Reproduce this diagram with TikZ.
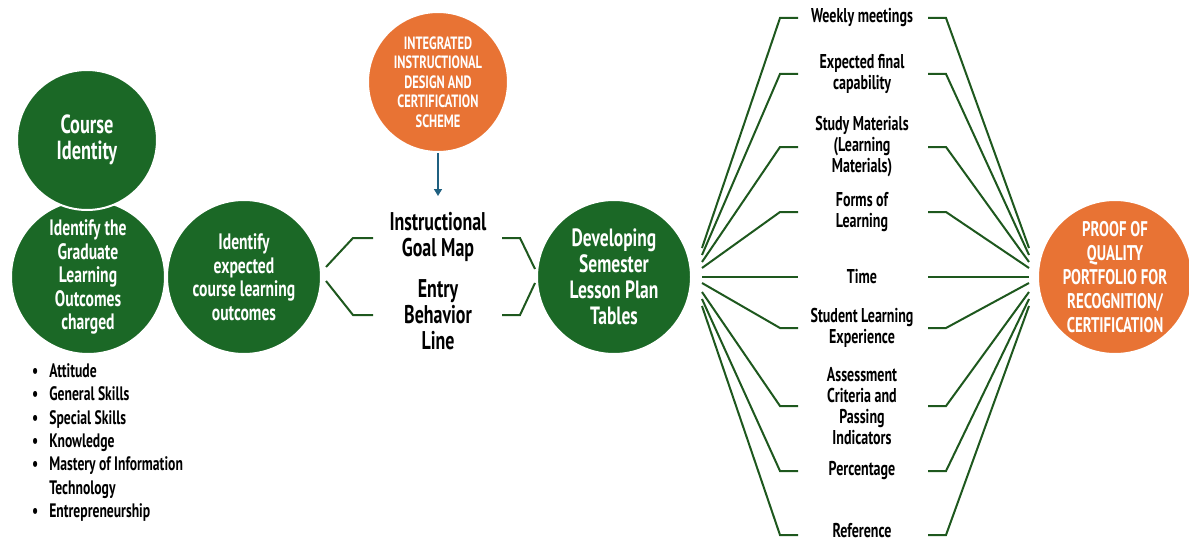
\documentclass[tikz,border=0pt]{standalone}
\usepackage{fontspec}
\setmainfont{PT Sans}[FakeStretch=0.7]
\usetikzlibrary{arrows.meta}
\definecolor{dgreen}{RGB}{27,104,38}
\definecolor{lgreen}{RGB}{30,88,30}
\definecolor{dorange}{RGB}{232,115,52}
\definecolor{arrowblue}{RGB}{31,96,128}
\tikzset{
  bubble/.style={circle, draw=white, line width=2pt, text=white, align=center,
    inner sep=0pt, font=\bfseries\fontsize{22.3}{23.5}\selectfont},
  greenbubble/.style={bubble, fill=dgreen, minimum size=154pt},
  orangebubble/.style={bubble, fill=dorange, minimum size=150pt},
  lbl/.style={align=center, text=black, inner sep=1pt,
    font=\bfseries\fontsize{20}{21}\selectfont},
  biglbl/.style={align=center, text=black, inner sep=1pt,
    font=\bfseries\fontsize{25.6}{26}\selectfont},
  link/.style={draw=lgreen, line width=2pt},
}
\begin{document}
\begin{tikzpicture}[x=1pt,y=-1pt]
\useasboundingbox (0,0) rectangle (1189,543);

% left column of circles
\node[greenbubble] (glo) at (88,277) {Identify the\\Graduate\\Learning\\Outcomes\\charged};
\node[greenbubble, minimum size=140pt, font=\bfseries\fontsize{26.2}{26}\selectfont] (ci) at (87,140) {Course\\Identity};
\node[greenbubble] (clo) at (244,277) {Identify\\expected\\course learning\\outcomes};

% outcome categories
\node[anchor=north west, inner sep=0pt, font=\bfseries\fontsize{19.5}{23.3}\selectfont] (cats) at (32,361)
 {\begin{tabular}{@{}c@{\hspace{11pt}}l@{}}
  \textbullet & Attitude\\
  \textbullet & General Skills\\
  \textbullet & Special Skills\\
  \textbullet & Knowledge\\
  \textbullet & Mastery of Information\\
              & Technology\\
  \textbullet & Entrepreneurship
 \end{tabular}};

% scheme and the two middle steps
\node[orangebubble, minimum size=140pt, font=\bfseries\fontsize{17.8}{19.5}\selectfont] (scheme) at (438,82)
  {INTEGRATED\\INSTRUCTIONAL\\DESIGN AND\\CERTIFICATION\\SCHEME};
\node[biglbl] (goal) at (438,237) {Instructional\\Goal Map};
\node[biglbl] (entry) at (438,315) {Entry\\Behavior\\Line};
\coordinate (arrowend) at (438,196);
\draw[draw=arrowblue, line width=1.5pt, -{Triangle[length=7pt,width=8pt]}] (scheme.south) -- (arrowend);

% lesson plan and portfolio
\node[greenbubble, font=\bfseries\fontsize{25}{26}\selectfont] (dev) at (614,277) {Developing\\Semester\\Lesson Plan\\Tables};
\node[orangebubble, minimum size=154pt, font=\bfseries\fontsize{21.2}{24}\selectfont] (proof) at (1115,277)
  {PROOF OF\\QUALITY\\PORTFOLIO FOR\\RECOGNITION/\\CERTIFICATION};

% brackets around the middle steps
\coordinate (bl1) at (326,267);
\coordinate (bl2) at (326,281);
\coordinate (br1) at (535,269);
\coordinate (br2) at (535,283);
\draw[link] (bl1) -- (353,238) -- (373,238);
\draw[link] (bl2) -- (353,315) -- (373,315);
\draw[link] (br1) -- (520,238) -- (502,238);
\draw[link] (br2) -- (520,315) -- (502,315);

% plan components
\node[lbl] (w) at (862,18) {Weekly meetings};
\node[lbl] (e) at (862,74) {Expected final\\capability};
\node[lbl] (s) at (862,147) {Study Materials\\(Learning\\Materials)};
\node[lbl] (f) at (862,212) {Forms of\\Learning};
\node[lbl] (t) at (862,277) {Time};
\node[lbl] (sl) at (862,328) {Student Learning\\Experience};
\node[lbl] (a) at (862,406) {Assessment\\Criteria and\\Passing\\Indicators};
\node[lbl] (p) at (862,471) {Percentage};
\node[lbl] (r) at (862,531) {Reference};

% fan lines from the lesson plan to each component and on to the portfolio
\foreach \n/\y/\fy in {w/18/248, e/74/255, s/147/262, f/212/268, sl/328/283, a/406/292, p/471/299, r/535/306}{
  \coordinate (\n-l) at (702,\fy);
  \coordinate (\n-r) at (1029,\fy);
  \draw[link] (\n-l) -- (780,\y) -- (798,\y);
  \draw[link] (928,\y) -- (946,\y) -- (\n-r);
}
\coordinate (t-l) at (702,277);
\coordinate (t-r) at (1029,277);
\draw[link, line width=2.5pt] (t-l) -- (798,277);
\draw[link, line width=2.5pt] (928,277) -- (t-r);
\end{tikzpicture}
\end{document}
